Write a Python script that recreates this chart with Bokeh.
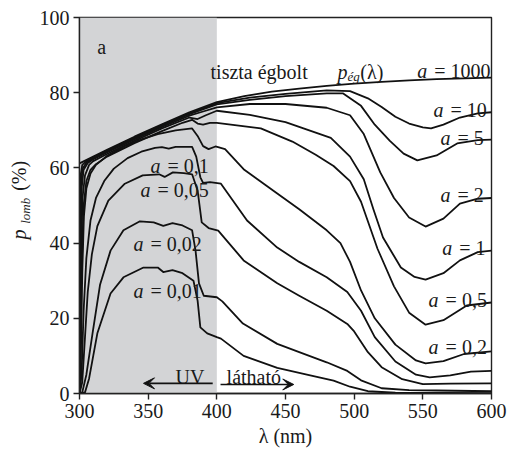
import math
from bokeh.plotting import figure
from bokeh.layouts import row
from bokeh.models import BoxAnnotation, Label, Arrow, VeeHead, Range1d, FixedTicker
from bokeh.core.properties import value
from bokeh.embed import file_html
from bokeh.resources import INLINE

# ---------------- data ----------------
lam_sky = [300, 310, 320, 340, 360, 380, 400, 420, 440, 460, 480, 500, 520, 540, 560, 580, 600]
p_sky = [61.2, 63.0, 64.8, 68.3, 71.6, 74.8, 77.5, 79.1, 80.3, 81.1, 81.8, 82.4, 82.9, 83.3, 83.6, 83.8, 84.0]

lam_a10 = [300, 300.4, 301, 302, 305, 310, 320, 340, 360, 380, 400, 424, 450, 480, 497, 510, 520, 530, 540, 550, 556, 565, 577, 590, 600]
p_a10 = [0, 45, 58.5, 60.8, 61.8, 62.8, 64.6, 68.1, 71.4, 74.5, 77.2, 78.7, 79.7, 80.6, 80.4, 78.5, 76.2, 73.6, 71.8, 70.8, 70.5, 71.5, 73.4, 74.5, 74.8]

lam_a5 = [300, 300.5, 301.3, 302.5, 305, 310, 320, 340, 360, 380, 400, 424, 450, 480, 492, 505, 515, 526, 536, 546, 560, 575, 590, 600]
p_a5 = [0, 42, 57, 60, 61.4, 62.6, 64.4, 67.9, 71.2, 74.3, 76.9, 78.1, 79.1, 79.8, 79.8, 76.5, 71.5, 67.2, 63.8, 62.0, 63.3, 66.5, 67.4, 67.5]

lam_a2 = [300, 300.7, 301.7, 303, 306, 310, 320, 340, 360, 380, 390, 400, 424, 450, 480, 497, 507, 519, 529, 540, 552, 565, 577, 590, 600]
p_a2 = [0, 40, 55, 59.5, 61.3, 62.3, 64.1, 67.6, 70.9, 73.9, 75.0, 76.1, 77.0, 77.0, 76.0, 74.0, 69.0, 58.8, 52.0, 46.8, 44.4, 46.5, 50.5, 51.8, 52.0]

lam_a1 = [300, 301, 302.2, 304, 307, 310, 320, 340, 360, 380, 386, 392, 400, 424, 450, 483, 497, 507, 514, 521, 534, 544, 552, 565, 577, 590, 600]
p_a1 = [0, 35, 52, 58, 60.8, 61.8, 63.7, 67.2, 70.5, 73.4, 73.0, 74.0, 75.2, 74.1, 72.2, 68.0, 63.0, 57.0, 49.0, 41.5, 33.5, 31.0, 30.3, 32.0, 35.4, 37.6, 38.0]

lam_a05 = [300, 301.3, 303, 305, 308, 312, 320, 340, 360, 375, 382, 386, 390, 395, 400, 432, 455, 472, 485, 497, 505, 517, 529, 540, 552, 565, 582, 600]
p_a05 = [0, 30, 50, 56.5, 59.5, 61, 63, 66.6, 69.8, 72.0, 72.8, 71.8, 71.5, 72.0, 72.0, 70.5, 67.0, 63.5, 60.5, 56.5, 51.0, 38.5, 28.5, 21.5, 18.3, 19.5, 23.4, 24.2]

lam_a02 = [300, 301, 302, 303.2, 305, 308, 312, 320, 333, 345, 357, 370, 382, 386, 390, 394, 399, 406, 420, 444, 460, 480, 490, 497, 505, 515, 530, 545, 552, 565, 580, 600]
p_a02 = [0, 10, 32, 47, 54.5, 58.5, 60.8, 63.2, 65.8, 67.6, 69.0, 70.0, 70.5, 68.5, 65.8, 65.0, 65.7, 65.0, 59.5, 53.2, 49.0, 43.4, 40.0, 35.0, 27.4, 20.0, 13.0, 8.8, 8.0, 8.6, 10.5, 11.2]

lam_a01 = [300, 301.5, 303, 305, 308, 312, 318, 325, 335, 345, 355, 360, 365, 370, 382, 385, 388, 390, 395, 403, 422, 444, 460, 480, 495, 505, 515, 530, 545, 555, 570, 585, 600]
p_a01 = [0, 5, 22, 36, 46, 52, 56.5, 59.8, 62.6, 64.3, 65.3, 65.5, 65.1, 65.6, 65.6, 63.0, 57.5, 56.0, 56.2, 55.8, 46.0, 38.8, 35.0, 30.9, 27.0, 22.0, 15.0, 8.5, 5.0, 4.3, 4.8, 5.8, 6.0]

lam_a005 = [300, 302, 304, 306, 309, 313, 321, 333, 346, 358, 362, 368, 376, 382, 386, 389, 394, 401, 419.5, 444, 460, 480, 495, 500, 510, 520, 535, 550, 570, 600]
p_a005 = [0, 3, 15, 27, 37, 44.5, 51.3, 55.8, 58.0, 58.3, 57.6, 58.8, 58.6, 58.3, 54.0, 45.5, 44.0, 43.3, 35.4, 29.3, 26.0, 22.0, 18.5, 16.5, 11.0, 7.0, 3.8, 2.5, 2.6, 2.7]

lam_a002 = [300, 302, 305, 309.5, 315, 322.6, 332, 344, 354, 361, 367.7, 375, 382, 384.5, 387, 390.5, 400, 404, 419, 444, 460, 480, 495, 505, 520, 540, 560, 600]
p_a002 = [0, 0.3, 5, 16, 29, 38, 43.4, 45.8, 45.5, 44.6, 45.3, 44.7, 43.4, 38.0, 29.3, 26.0, 25.6, 24.5, 18.6, 13.2, 11.0, 8.3, 6.0, 3.5, 1.4, 0.9, 0.8, 0.6]

lam_a001 = [300, 304, 307, 313, 322.6, 332, 346.6, 357, 361, 367.7, 375, 383, 386, 388, 393, 400, 403, 419.5, 444, 468, 485, 497, 510, 530, 600]
p_a001 = [0, 0.3, 4, 16, 26.6, 30.9, 33.5, 33.5, 32.3, 32.8, 32.0, 30.0, 24.7, 17.6, 16.0, 15.0, 14.6, 10.0, 6.8, 4.8, 3.4, 1.8, 0.6, 0.2, 0.1]

curves = [(lam_sky, p_sky), (lam_a10, p_a10), (lam_a5, p_a5), (lam_a2, p_a2), (lam_a1, p_a1),
          (lam_a05, p_a05), (lam_a02, p_a02), (lam_a01, p_a01), (lam_a005, p_a005),
          (lam_a002, p_a002), (lam_a001, p_a001)]

x_ticks = [300, 350, 400, 450, 500, 550, 600]
y_ticks = [0, 20, 40, 60, 80, 100]
uv_start, uv_end = 300, 400

# curve labels "a = ..." (value text, label left x, label baseline y)
a_values = ["1000", "10", "5", "2", "1", "0,5", "0,2", "0,1", "0,05", "0,02", "0,01"]
a_lab_x = [546.0, 557.8, 562.9, 562.9, 564.2, 554.2, 554.2, 351.7, 344.4, 339.3, 339.3]
a_lab_y = [85.7, 75.4, 68.0, 52.7, 38.8, 25.0, 12.3, 60.5, 54.2, 39.8, 27.2]

# ---------------- figure ----------------
FONT = "Liberation Serif"
FS = "20px"
INK = "#1a1a1a"
LEFT_W = 34
TOP_B = 17
FRAME_H = 376
BOT_B = 58

p = figure(frame_width=412, frame_height=FRAME_H, x_range=Range1d(300, 600), y_range=Range1d(0, 100),
           output_backend="svg", toolbar_location=None,
           min_border_left=79 - LEFT_W, min_border_right=17, min_border_top=TOP_B,
           min_border_bottom=BOT_B)
p.background_fill_color = "white"
p.border_fill_color = "white"
p.outline_line_color = "#222222"
p.outline_line_width = 1.4
p.xgrid.visible = False
p.ygrid.visible = False

for ax in (p.xaxis[0], p.yaxis[0]):
    ax.axis_line_color = "#222222"
    ax.axis_line_width = 1.4
    ax.major_tick_line_color = "#222222"
    ax.major_tick_line_width = 1.4
    ax.major_tick_in = 0
    ax.major_tick_out = 6
    ax.minor_tick_line_color = None
    ax.major_label_text_font = FONT
    ax.major_label_text_font_size = FS
    ax.major_label_text_color = INK
    ax.major_label_standoff = 4

p.xaxis.ticker = FixedTicker(ticks=x_ticks)
p.yaxis.ticker = FixedTicker(ticks=y_ticks)
p.xaxis.axis_label = "λ (nm)"
p.xaxis.axis_label_text_font = FONT
p.xaxis.axis_label_text_font_size = FS
p.xaxis.axis_label_text_font_style = "normal"
p.xaxis.axis_label_text_color = INK
p.xaxis.axis_label_standoff = 4

# UV shaded region
p.add_layout(BoxAnnotation(left=uv_start, right=uv_end, fill_color="#d3d4d6", fill_alpha=1.0,
                           line_color=None, level="underlay"))

for lam, pv in curves:
    p.line(lam, pv, line_color="#111111", line_width=1.8, line_join="round")

# curve labels
p.text(x=a_lab_x, y=a_lab_y, text=["a"] * len(a_lab_x), text_font=value(FONT), text_font_size=FS,
       text_font_style="italic", text_baseline="alphabetic", text_align="left", text_color=INK)
p.text(x=a_lab_x, y=a_lab_y, text=["= " + v for v in a_values], x_offset=17, text_font=value(FONT),
       text_font_size=FS, text_baseline="alphabetic", text_align="left", text_color=INK)

def lab(x, y, t, style="normal", size=FS):
    p.add_layout(Label(x=x, y=y, text=t, text_font=FONT, text_font_size=size, text_font_style=style,
                       text_baseline="alphabetic", text_align="left", text_color=INK))

lab(312.9, 92.1, "a")
lab(395.4, 85.6, "tiszta égbolt")
lab(487.9, 85.6, "p", style="italic")
lab(495.2, 84.2, "ég", style="italic", size="13px")
lab(504.5, 85.6, "(λ)")
lab(369.9, 4.3, "UV")
lab(407.1, 4.3, "látható")

# arrows
p.add_layout(Arrow(end=VeeHead(size=11, fill_color="#111111", line_color="#111111"),
                   x_start=397, y_start=2.7, x_end=346.6, y_end=2.7,
                   line_color="#111111", line_width=1.6))
p.add_layout(Arrow(end=VeeHead(size=11, fill_color="#111111", line_color="#111111"),
                   x_start=402.7, y_start=2.4, x_end=456, y_end=2.4,
                   line_color="#111111", line_width=1.6))

# ---------------- y-axis title strip (rotated, with subscript) ----------------
ylab = figure(frame_width=LEFT_W, frame_height=FRAME_H, x_range=Range1d(0, LEFT_W),
              y_range=Range1d(0, 100), output_backend="svg", toolbar_location=None,
              x_axis_type=None, y_axis_type=None, min_border_left=0, min_border_right=0,
              min_border_top=TOP_B, min_border_bottom=BOT_B)
ylab.outline_line_color = None
ylab.xgrid.visible = False
ylab.ygrid.visible = False
ylab.background_fill_color = "white"
ylab.border_fill_color = "white"
ylab.text(x=[18.3], y=[42.3], text=["p"], angle=math.pi / 2, text_font=value(FONT),
          text_font_size=FS, text_font_style="italic", text_baseline="middle",
          text_align="center", text_color=INK)
ylab.text(x=[25.3], y=[48.6], text=["lomb"], angle=math.pi / 2, text_font=value(FONT),
          text_font_size="13px", text_font_style="italic", text_baseline="middle",
          text_align="center", text_color=INK)
ylab.text(x=[18.3], y=[57.9], text=["(%)"], angle=math.pi / 2, text_font=value(FONT),
          text_font_size=FS, text_baseline="middle", text_align="center", text_color=INK)

layout = row(ylab, p)
open("out.html", "w").write(file_html(layout, INLINE))
